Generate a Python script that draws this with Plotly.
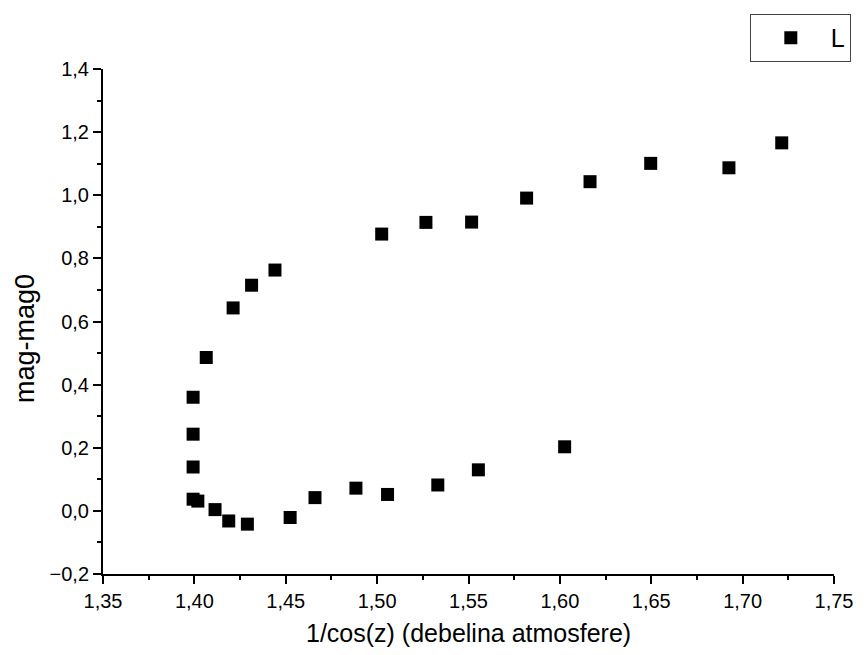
import plotly.graph_objects as go

# Airmass (1/cos z) against instrumental magnitude difference
airmass = [1.3993, 1.3993, 1.3993, 1.3993, 1.4019, 1.4065, 1.4113, 1.4188,
           1.4212, 1.4290, 1.4313, 1.4441, 1.4524, 1.4660, 1.4884, 1.5025,
           1.5057, 1.5267, 1.5332, 1.5517, 1.5554, 1.5818, 1.6026, 1.6165,
           1.6497, 1.6925, 1.7214]
mag_diff = [0.360, 0.243, 0.139, 0.037, 0.031, 0.486, 0.004, -0.032,
            0.643, -0.042, 0.715, 0.763, -0.021, 0.042, 0.072, 0.877,
            0.052, 0.914, 0.082, 0.915, 0.130, 0.991, 0.203, 1.043,
            1.101, 1.087, 1.166]

series_name = "L"
x_title = "1/cos(z) (debelina atmosfere)"
y_title = "mag-mag0"
x_ticks = [1.35, 1.40, 1.45, 1.50, 1.55, 1.60, 1.65, 1.70, 1.75]
y_ticks = [-0.2, 0.0, 0.2, 0.4, 0.6, 0.8, 1.0, 1.2, 1.4]

FONT = "Liberation Sans, Arial, sans-serif"

fig = go.Figure()
fig.add_trace(go.Scatter(
    x=airmass, y=mag_diff, mode="markers", name=series_name,
    marker=dict(symbol="square", size=13, color="black", line=dict(width=0)),
))

axis_common = dict(
    showgrid=False, zeroline=False, showline=True, linecolor="black",
    linewidth=2, ticks="outside", ticklen=8, tickwidth=1.5, tickcolor="black",
    tickfont=dict(family=FONT, size=20, color="black"),
    minor=dict(ticks="outside", ticklen=4, tickwidth=1.5, tickcolor="black"),
)

fig.update_xaxes(range=[1.35, 1.75], tickvals=x_ticks, tickformat=".2f",
                 minor_dtick=0.025, **axis_common)
fig.update_yaxes(range=[-0.2, 1.4], tickvals=y_ticks, tickformat=".1f",
                 minor_dtick=0.1, **axis_common)

fig.update_layout(
    width=865, height=655,
    margin=dict(l=103, r=24, t=69, b=81),
    paper_bgcolor="white", plot_bgcolor="white",
    separators=",.",
    font=dict(family=FONT, color="black"),
    showlegend=True,
    legend=dict(
        x=1.023, xanchor="right", y=1.109, yanchor="top",
        bordercolor="#444", borderwidth=1, bgcolor="white",
        font=dict(family=FONT, size=25, color="black"),
        itemwidth=70,
    ),
    annotations=[
        dict(text=x_title, xref="paper", yref="paper", x=0.5, y=-0.117,
             xanchor="center", yanchor="middle", showarrow=False,
             font=dict(family=FONT, size=25, color="black")),
        dict(text=y_title, xref="paper", yref="paper", x=-0.107, y=0.467,
             xanchor="center", yanchor="middle", textangle=-90, showarrow=False,
             font=dict(family=FONT, size=27, color="black")),
    ],
)

fig.write_html("out.html")
